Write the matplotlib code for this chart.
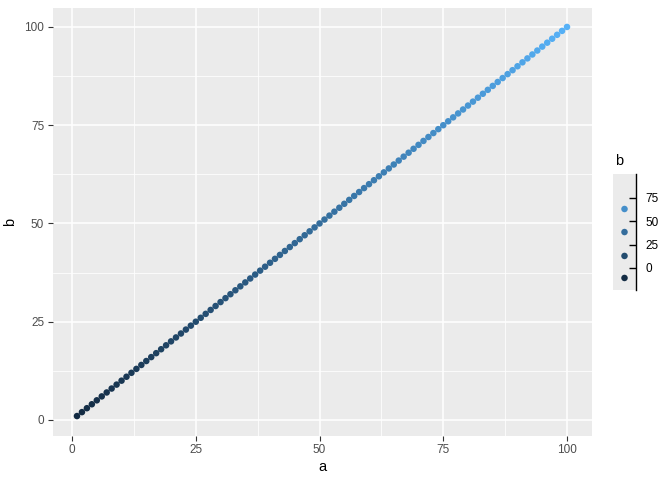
import numpy as np
import matplotlib
matplotlib.use("Agg")
import matplotlib.pyplot as plt
from matplotlib.colors import LinearSegmentedColormap, Normalize

# Data: a and b run 1..100
a = np.arange(1, 101)
b = np.arange(1, 101)
ticks = [0, 25, 50, 75, 100]
minor_ticks = [12.5, 37.5, 62.5, 87.5]
legend_breaks = [0, 25, 50, 75]

plt.rcParams["font.family"] = ["Liberation Sans", "DejaVu Sans"]

cmap = LinearSegmentedColormap.from_list("gg", ["#132B43", "#56B1F7"])
norm = Normalize(vmin=1, vmax=100)

fig = plt.figure(figsize=(6.72, 4.8), dpi=100)
ax = fig.add_axes([52.5 / 672, 1 - 435.5 / 480, (591.5 - 52.5) / 672, (435.5 - 7.5) / 480])
ax.set_facecolor("#EBEBEB")

ax.scatter(a, b, c=b, cmap=cmap, norm=norm, s=22, linewidths=0, zorder=3)

pad = (a.max() - a.min()) * 0.05
ax.set_xlim(a.min() - pad, a.max() + pad)
ax.set_ylim(b.min() - pad, b.max() + pad)
ax.set_xticks(ticks)
ax.set_yticks(ticks)
ax.set_xticks(minor_ticks, minor=True)
ax.set_yticks(minor_ticks, minor=True)
ax.grid(which="major", color="white", linewidth=1.1)
ax.grid(which="minor", color="white", linewidth=0.55)
ax.set_axisbelow(True)
for s in ax.spines.values():
    s.set_visible(False)
ax.tick_params(which="major", length=3.5, width=0.8, color="#333333",
               labelsize=8.5, labelcolor="#4D4D4D", pad=2.5)
ax.tick_params(which="minor", length=0)
ax.set_xlabel("a", fontsize=10.5, labelpad=3)
ax.set_ylabel("b", fontsize=10.5, labelpad=5)

# Legend drawn as small axes
lax = fig.add_axes([613 / 672, 1 - 290 / 480, 23 / 672, 116 / 480])
lax.set_facecolor("#EBEBEB")
lax.set_xlim(0, 1)
lax.set_ylim(-23.6, 100.7)
key_y = [-10.7, 12.9, 38.5, 63.2]
key_val = [1, 25, 50, 75]
lax.scatter([0.5] * 4, key_y, c=key_val, cmap=cmap, norm=norm, s=22, linewidths=0)
for s in ["top", "left", "bottom"]:
    lax.spines[s].set_visible(False)
lax.spines["right"].set_linewidth(1.0)
lax.set_xticks([])
lax.yaxis.tick_right()
lax.set_yticks(legend_breaks)
lax.tick_params(axis="y", direction="in", length=5, width=1.0, labelsize=8.5,
                labelcolor="black", pad=7)
fig.text(615 / 672, 1 - 161 / 480, "b", fontsize=10.5, va="center", ha="left")

fig.savefig("out.png", dpi=100)
